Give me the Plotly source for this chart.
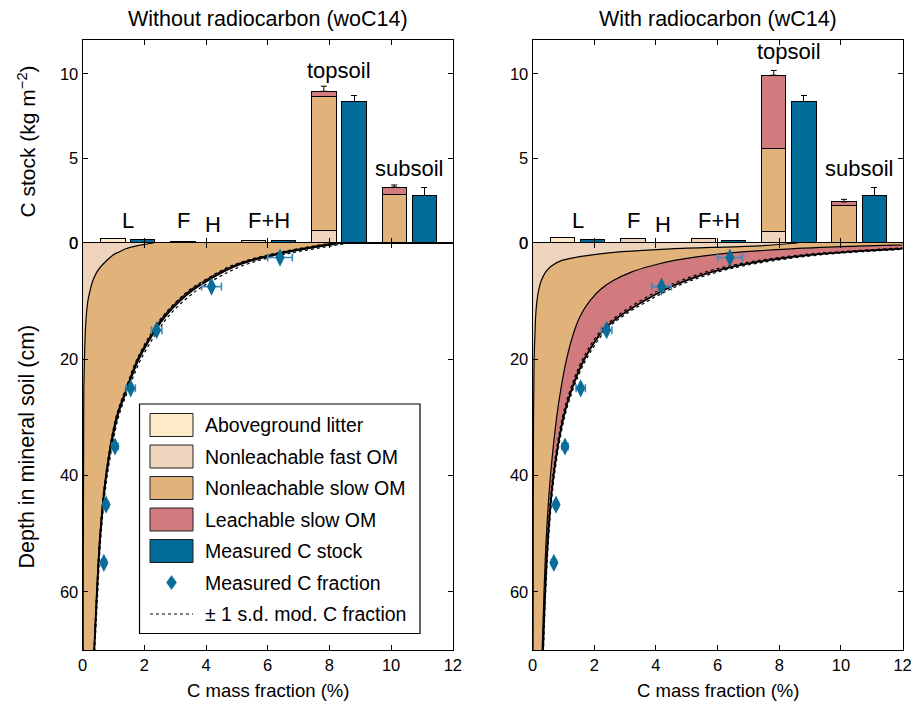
import plotly.graph_objects as go

W, H = 923, 706

# ---------------- data ----------------
depth = [0, 0.5, 1, 1.5, 2, 3, 4, 5, 6.5, 8, 10, 12.5, 15, 20, 25, 30, 40, 50, 60, 70]

# Without radiocarbon (woC14): cumulative C fraction boundaries (%)
wo_fast = [2.3, 1.75, 1.4, 1.2, 1.0, 0.78, 0.6, 0.46, 0.33, 0.25, 0.17, 0.12, 0.09, 0.06, 0.04, 0.035, 0.03, 0.025, 0.02, 0.02]
wo_slow = [8.15, 7.6, 7.05, 6.55, 6.12, 5.38, 4.85, 4.45, 3.96, 3.52, 3.08, 2.64, 2.31, 1.78, 1.42, 1.09, 0.75, 0.565, 0.455, 0.37]
wo_total = [8.35, 7.8, 7.22, 6.72, 6.27, 5.5, 4.95, 4.55, 4.05, 3.6, 3.15, 2.7, 2.36, 1.82, 1.45, 1.12, 0.77, 0.58, 0.47, 0.38]
wo_sd_hi = [8.65, 8.08, 7.5, 6.97, 6.5, 5.71, 5.14, 4.72, 4.2, 3.74, 3.27, 2.8, 2.45, 1.89, 1.5, 1.16, 0.8, 0.6, 0.49, 0.395]
wo_sd_lo = [8.1, 7.52, 6.97, 6.48, 6.05, 5.32, 4.78, 4.4, 3.92, 3.48, 3.05, 2.61, 2.28, 1.76, 1.4, 1.08, 0.745, 0.56, 0.455, 0.365]

# With radiocarbon (wC14)
w_fast = [8.6, 7.3, 4.5, 2.9, 2.0, 0.95, 0.6, 0.42, 0.28, 0.2, 0.14, 0.1, 0.08, 0.05, 0.04, 0.03, 0.025, 0.02, 0.02, 0.015]
w_slow = [14.0, 10.8, 8.4, 6.9, 5.9, 4.6, 3.8, 3.2, 2.6, 2.2, 1.85, 1.55, 1.36, 1.1, 0.92, 0.78, 0.58, 0.45, 0.37, 0.31]
w_total = [15.5, 13.5, 11.9, 10.3, 9.1, 7.6, 6.55, 5.8, 4.95, 4.3, 3.6, 2.85, 2.3, 1.68, 1.28, 1.0, 0.68, 0.51, 0.41, 0.34]
w_sd_hi = [16.0, 13.97, 12.32, 10.66, 9.42, 7.87, 6.78, 6.0, 5.12, 4.45, 3.73, 2.95, 2.38, 1.74, 1.325, 1.035, 0.705, 0.53, 0.425, 0.353]
w_sd_lo = [14.96, 13.03, 11.48, 9.94, 8.78, 7.33, 6.32, 5.6, 4.78, 4.15, 3.47, 2.75, 2.22, 1.62, 1.235, 0.965, 0.655, 0.49, 0.395, 0.328]

# Measured C fraction
meas_depth = [2.5, 7.5, 15, 25, 35, 45, 55]
meas_frac = [6.4, 4.18, 2.4, 1.56, 1.05, 0.76, 0.69]
meas_err = [0.40, 0.32, 0.17, 0.15, 0.10, 0.08, 0.08]

# C stocks (kg m-2): model bars for L, F, F+H, topsoil, subsoil
bar_pos_model = [0.98, 3.26, 5.54, 7.82, 10.10]
wo_litter = [0.28, 0, 0, 0, 0]
wo_fastb = [0, 0.10, 0.16, 0.75, 0]
wo_slowb = [0, 0, 0, 7.91, 2.88]
wo_leachb = [0, 0, 0, 0.31, 0.43]
wo_err = [0, 0, 0, 0.30, 0.12]

w_litter = [0.34, 0, 0, 0, 0]
w_fastb = [0, 0.28, 0.28, 0.67, 0]
w_slowb = [0, 0, 0, 4.93, 2.23]
w_leachb = [0, 0, 0, 4.32, 0.20]
w_err = [0, 0, 0, 0.28, 0.15]

# measured stocks for L, F+H, topsoil, subsoil
bar_pos_meas = [1.95, 6.51, 8.80, 11.08]
meas_stock = [0.20, 0.14, 8.36, 2.78]
meas_stock_err = [0.03, 0.02, 0.38, 0.49]

bar_labels = ["L", "F", "H", "F+H", "topsoil", "subsoil"]
bar_label_x = [1.47, 3.26, 4.23, 6.03, 8.3, 10.58]
wo_label_y = [1.35, 1.35, 1.1, 1.35, 10.2, 4.4]
w_label_y = [1.35, 1.35, 1.1, 1.35, 11.35, 4.4]

legend_labels = ["Aboveground litter", "Nonleachable fast OM", "Nonleachable slow OM",
                 "Leachable slow OM", "Measured C stock", "Measured C fraction",
                 "\u00b1 1 s.d. mod. C fraction"]

# ---------------- style ----------------
C_LITTER = "#FDEBC8"
C_FAST = "#EED4BC"
C_SLOW = "#E1B37B"
C_LEACH = "#D17B7E"
C_MEAS = "#006A98"
C_PT = "#0A6C99"
C_PTERR = "#3A8EC0"
FONT = "Liberation Sans, Arial, Helvetica, sans-serif"
BAR_W = 0.79


def px(x):
    return x / W


def py(y):
    return 1 - y / H


XL = [px(82.6), px(452.8)]
XR = [px(532.6), px(902.6)]
Y_TOP = [py(243), py(40)]
Y_BOT = [py(650), py(243)]

fig = go.Figure()


def nz(v):
    return [a if a > 0 else None for a in v]


def add_panel(xa, ya_top, ya_bot, fast, slow, total, hi, lo,
              litter, fastb, slowb, leachb, err):
    xt, yt = xa[0], ya_top
    xb, yb = xa[1], ya_bot
    for vals, col in [(litter, C_LITTER), (fastb, C_FAST), (slowb, C_SLOW), (leachb, C_LEACH)]:
        fig.add_trace(go.Bar(x=bar_pos_model, y=nz(vals), width=BAR_W, marker_color=col,
                             marker_line=dict(color="black", width=1), xaxis=xt, yaxis=yt,
                             showlegend=False))
    tops = [a + b + c + d for a, b, c, d in zip(litter, fastb, slowb, leachb)]
    ex = [x for x, e in zip(bar_pos_model, err) if e > 0]
    ey = [t for t, e in zip(tops, err) if e > 0]
    ee = [e for e in err if e > 0]
    fig.add_trace(go.Scatter(x=ex, y=ey, mode="markers", marker=dict(size=1, opacity=0),
                             error_y=dict(type="data", symmetric=False, array=ee,
                                          arrayminus=[0] * len(ee), color="black",
                                          thickness=1, width=3),
                             xaxis=xt, yaxis=yt, showlegend=False))
    fig.add_trace(go.Bar(x=bar_pos_meas, y=meas_stock, width=BAR_W, marker_color=C_MEAS,
                         marker_line=dict(color="black", width=1),
                         error_y=dict(type="data", symmetric=False, array=meas_stock_err,
                                      arrayminus=[0] * len(meas_stock_err), color="black",
                                      thickness=1, width=3),
                         xaxis=xt, yaxis=yt, showlegend=False))
    common = dict(mode="lines", xaxis=xb, yaxis=yb, showlegend=False)
    fig.add_trace(go.Scatter(x=fast, y=depth, fill="tozerox", fillcolor=C_FAST,
                             line=dict(color="black", width=1.2, shape="spline"), **common))
    fig.add_trace(go.Scatter(x=slow, y=depth, fill="tonextx", fillcolor=C_SLOW,
                             line=dict(color="black", width=1.2, shape="spline"), **common))
    fig.add_trace(go.Scatter(x=total, y=depth, fill="tonextx", fillcolor=C_LEACH,
                             line=dict(color="black", width=1.8, shape="spline"), **common))
    for s in (hi, lo):
        fig.add_trace(go.Scatter(x=s, y=depth, line=dict(color="black", width=1.2,
                                                          dash="dot", shape="spline"), **common))
    fig.add_trace(go.Scatter(x=meas_frac, y=meas_depth, mode="markers",
                             marker=dict(symbol="diamond-tall", size=13, color=C_PT),
                             error_x=dict(type="data", array=meas_err, color=C_PTERR,
                                          thickness=1.6, width=4),
                             xaxis=xb, yaxis=yb, showlegend=False))


add_panel(("x", "x2"), "y", "y2", wo_fast, wo_slow, wo_total, wo_sd_hi, wo_sd_lo,
          wo_litter, wo_fastb, wo_slowb, wo_leachb, wo_err)
add_panel(("x3", "x4"), "y3", "y4", w_fast, w_slow, w_total, w_sd_hi, w_sd_lo,
          w_litter, w_fastb, w_slowb, w_leachb, w_err)

axis_common = dict(showline=True, linecolor="black", linewidth=1, mirror="ticks",
                   ticks="inside", ticklen=5, tickcolor="black", showgrid=False,
                   zeroline=False, automargin=False, tickfont=dict(size=16.5, family=FONT))

layout = dict(
    width=W, height=H, margin=dict(l=0, r=0, t=0, b=0),
    paper_bgcolor="white", plot_bgcolor="white", template="none",
    font=dict(family=FONT, color="black", size=16),
    barmode="stack", showlegend=False,
    xaxis=dict(domain=XL, anchor="y", range=[0, 12], tickvals=list(range(0, 13, 2)),
               showticklabels=False, **axis_common),
    yaxis=dict(domain=Y_TOP, anchor="x", range=[0, 12], tickvals=[0, 5, 10], **axis_common),
    xaxis2=dict(domain=XL, anchor="y2", range=[0, 12], tickvals=list(range(0, 13, 2)),
                **axis_common),
    yaxis2=dict(domain=Y_BOT, anchor="x2", range=[70, 0], tickvals=[0, 20, 40, 60],
                **axis_common),
    xaxis3=dict(domain=XR, anchor="y3", range=[0, 12], tickvals=list(range(0, 13, 2)),
                showticklabels=False, **axis_common),
    yaxis3=dict(domain=Y_TOP, anchor="x3", range=[0, 12], tickvals=[0, 5, 10], **axis_common),
    xaxis4=dict(domain=XR, anchor="y4", range=[0, 12], tickvals=list(range(0, 13, 2)),
                **axis_common),
    yaxis4=dict(domain=Y_BOT, anchor="x4", range=[70, 0], tickvals=[0, 20, 40, 60], **axis_common),
)
fig.update_layout(**layout)

ann = []
# panel titles
ann.append(dict(text="Without radiocarbon (woC14)", x=(XL[0] + XL[1]) / 2, y=py(19),
                xref="paper", yref="paper", xanchor="center", yanchor="middle",
                showarrow=False, font=dict(size=21.5)))
ann.append(dict(text="With radiocarbon (wC14)", x=(XR[0] + XR[1]) / 2, y=py(19),
                xref="paper", yref="paper", xanchor="center", yanchor="middle",
                showarrow=False, font=dict(size=21.5)))
# axis titles
ann.append(dict(text="C stock (kg m<sup>\u22122</sup>)", x=px(26), y=(Y_TOP[0] + Y_TOP[1]) / 2,
                xref="paper", yref="paper", xanchor="center", yanchor="middle",
                textangle=-90, showarrow=False, font=dict(size=21)))
ann.append(dict(text="Depth in mineral soil (cm)", x=px(26), y=(Y_BOT[0] + Y_BOT[1]) / 2,
                xref="paper", yref="paper", xanchor="center", yanchor="middle",
                textangle=-90, showarrow=False, font=dict(size=21.5)))
for xd in (XL, XR):
    ann.append(dict(text="C mass fraction (%)", x=(xd[0] + xd[1]) / 2, y=py(690),
                    xref="paper", yref="paper", xanchor="center", yanchor="middle",
                    showarrow=False, font=dict(size=18.5)))
# bar labels
for xr, yr, ly in (("x", "y", wo_label_y), ("x3", "y3", w_label_y)):
    for t, lx, yy in zip(bar_labels, bar_label_x, ly):
        ann.append(dict(text=t, x=lx, y=yy, xref=xr, yref=yr, xanchor="center",
                        yanchor="middle", showarrow=False, font=dict(size=22)))

# custom legend
shapes = []
lg_x0, lg_x1, lg_y0, lg_y1 = 139.5, 420, 404, 633.5
shapes.append(dict(type="rect", xref="paper", yref="paper", x0=px(lg_x0), x1=px(lg_x1),
                   y0=py(lg_y1), y1=py(lg_y0), line=dict(color="black", width=1.2),
                   fillcolor="white", layer="above"))
row0, step = 425, 31.5
sw_cols = [C_LITTER, C_FAST, C_SLOW, C_LEACH, C_MEAS]
for i, lab in enumerate(legend_labels):
    yc = row0 + i * step
    if i < 5:
        shapes.append(dict(type="rect", xref="paper", yref="paper", x0=px(150), x1=px(193),
                           y0=py(yc + 11.5), y1=py(yc - 11.5), fillcolor=sw_cols[i],
                           line=dict(color="#222222", width=1), layer="above"))
    elif i == 5:
        cx = 171.5
        path = "M {} {} L {} {} L {} {} L {} {} Z".format(
            px(cx), py(yc - 7), px(cx + 5), py(yc), px(cx), py(yc + 7), px(cx - 5), py(yc))
        shapes.append(dict(type="path", xref="paper", yref="paper", path=path,
                           fillcolor=C_PT, line=dict(color=C_PT, width=0.5), layer="above"))
    else:
        shapes.append(dict(type="line", xref="paper", yref="paper", x0=px(150), x1=px(193),
                           y0=py(yc), y1=py(yc), line=dict(color="black", width=1, dash="dot"),
                           layer="above"))
    ann.append(dict(text=lab, x=px(203), y=py(yc), xref="paper", yref="paper",
                    xanchor="left", yanchor="middle", showarrow=False, font=dict(size=19.5)))

fig.update_layout(annotations=ann, shapes=shapes)
fig.write_html("out.html")
